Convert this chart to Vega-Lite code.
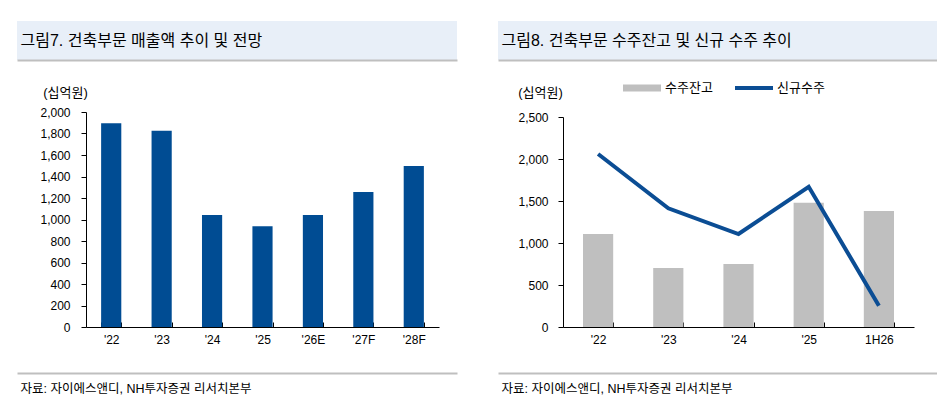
{
  "$schema": "https://vega.github.io/schema/vega-lite/v6.json",
  "background": "white",
  "padding": {"left": 17, "top": 21, "right": 0, "bottom": 0},
  "config": {
    "font": "Liberation Sans, Noto Sans CJK KR",
    "view": {"stroke": null},
    "axis": {
      "grid": false,
      "labelColor": "#000",
      "labelFontSize": 12,
      "domainColor": "#000",
      "tickColor": "#000",
      "titleColor": "#000",
      "titleFontWeight": "normal"
    }
  },
  "spacing": 41,
  "resolve": {"legend": {"color": "independent"}},
  "hconcat": [
    {
      "bounds": "flush",
      "spacing": 52,
      "vconcat": [
        {
          "width": 440,
          "height": 39,
          "view": {"fill": "#E8EFF8", "stroke": null},
          "data": {"values": [{"panel": "fig7"}]},
          "mark": {"type": "point", "opacity": 0},
          "encoding": {
            "x": {
              "field": "panel",
              "type": "nominal",
              "axis": {
                "orient": "bottom",
                "domainColor": "#BFBFBF",
                "domainWidth": 2,
                "ticks": false,
                "labels": false,
                "title": "그림7. 건축부문 매출액 추이 및 전망",
                "titleX": 3,
                "titleY": -20,
                "titleAlign": "left",
                "titleAnchor": "start",
                "titleBaseline": "middle",
                "titleFontSize": 16
              }
            }
          }
        },
        {
          "width": 440,
          "height": 215,
          "data": {
            "values": [
              {"year": "'22", "sales": 1895},
              {"year": "'23", "sales": 1826},
              {"year": "'24", "sales": 1042},
              {"year": "'25", "sales": 937},
              {"year": "'26E", "sales": 1042},
              {"year": "'27F", "sales": 1256},
              {"year": "'28F", "sales": 1498}
            ]
          },
          "mark": {"type": "bar", "color": "#004C93"},
          "encoding": {
            "x": {
              "field": "year",
              "type": "ordinal",
              "sort": null,
              "scale": {"range": [69, 422], "paddingInner": 0.6, "paddingOuter": 0.3},
              "axis": {
                "title": null,
                "labelAngle": 0,
                "tickBand": "extent",
                "tickSize": -5,
                "labelPadding": 12
              }
            },
            "y": {
              "field": "sales",
              "type": "quantitative",
              "scale": {"domain": [0, 2000]},
              "axis": {
                "values": [0, 200, 400, 600, 800, 1000, 1200, 1400, 1600, 1800, 2000],
                "format": ",.0f",
                "offset": -69,
                "tickSize": 5,
                "labelPadding": 11,
                "title": "(십억원)",
                "titleAngle": 0,
                "titleX": -21,
                "titleY": -20,
                "titleAlign": "center",
                "titleBaseline": "middle",
                "titleFontSize": 13
              }
            }
          }
        },
        {
          "width": 440,
          "height": 10,
          "data": {"values": [{"panel": "src"}]},
          "mark": {"type": "point", "opacity": 0},
          "encoding": {
            "x": {
              "field": "panel",
              "type": "nominal",
              "axis": {
                "orient": "top",
                "offset": 6,
                "domainColor": "#BFBFBF",
                "domainWidth": 2,
                "ticks": false,
                "labels": false,
                "title": "자료: 자이에스앤디, NH투자증권 리서치본부",
                "titleX": 3,
                "titleY": 15,
                "titleAlign": "left",
                "titleAnchor": "start",
                "titleBaseline": "middle",
                "titleFontSize": 12.5
              }
            }
          }
        }
      ]
    },
    {
      "bounds": "flush",
      "spacing": 57,
      "resolve": {"legend": {"color": "independent"}},
      "vconcat": [
        {
          "width": 439,
          "height": 39,
          "view": {"fill": "#E8EFF8", "stroke": null},
          "data": {"values": [{"panel": "fig8"}]},
          "mark": {"type": "point", "opacity": 0},
          "encoding": {
            "x": {
              "field": "panel",
              "type": "nominal",
              "axis": {
                "orient": "bottom",
                "domainColor": "#BFBFBF",
                "domainWidth": 2,
                "ticks": false,
                "labels": false,
                "title": "그림8. 건축부문 수주잔고 및 신규 수주 추이",
                "titleX": 3,
                "titleY": -20,
                "titleAlign": "left",
                "titleAnchor": "start",
                "titleBaseline": "middle",
                "titleFontSize": 16
              }
            }
          }
        },
        {
          "width": 439,
          "height": 210,
          "data": {
            "values": [
              {"period": "'22", "series": "수주잔고", "value": 1107},
              {"period": "'23", "series": "수주잔고", "value": 702},
              {"period": "'24", "series": "수주잔고", "value": 750},
              {"period": "'25", "series": "수주잔고", "value": 1480},
              {"period": "1H26", "series": "수주잔고", "value": 1381},
              {"period": "'22", "series": "신규수주", "value": 2060},
              {"period": "'23", "series": "신규수주", "value": 1413},
              {"period": "'24", "series": "신규수주", "value": 1107},
              {"period": "'25", "series": "신규수주", "value": 1670},
              {"period": "1H26", "series": "신규수주", "value": 254}
            ]
          },
          "encoding": {
            "x": {
              "field": "period",
              "type": "ordinal",
              "sort": null,
              "scale": {"range": [65, 416], "paddingInner": 0.57, "paddingOuter": 0.285},
              "axis": {
                "title": null,
                "labelAngle": 0,
                "tickBand": "extent",
                "tickSize": -5,
                "labelPadding": 12
              }
            },
            "y": {
              "field": "value",
              "type": "quantitative",
              "scale": {"domain": [0, 2500]},
              "axis": {
                "values": [0, 500, 1000, 1500, 2000, 2500],
                "format": ",.0f",
                "offset": -65,
                "tickSize": 5,
                "labelPadding": 10,
                "title": "(십억원)",
                "titleAngle": 0,
                "titleX": -23,
                "titleY": -25,
                "titleAlign": "center",
                "titleBaseline": "middle",
                "titleFontSize": 13
              }
            },
            "color": {
              "field": "series",
              "type": "nominal",
              "scale": {"domain": ["수주잔고", "신규수주"], "range": ["#BFBFBF", "#0B4D94"]},
              "legend": {
                "orient": "none",
                "legendX": 125,
                "legendY": -48,
                "direction": "horizontal",
                "columns": 2,
                "title": null,
                "padding": 0,
                "symbolType": "M-1,-0.18H1V0.18H-1Z",
                "symbolSize": 1444,
                "symbolStrokeWidth": 0,
                "labelFontSize": 13,
                "labelColor": "#000",
                "labelOffset": 4,
                "columnPadding": 22,
                "encode": {
                  "symbols": {
                    "update": {
                      "shape": {"signal": "datum.value === '신규수주' ? 'M-1,-0.11H1V0.11H-1Z' : 'M-1,-0.18H1V0.18H-1Z'"},
                      "fill": {"signal": "datum.value === '신규수주' ? '#0B4D94' : '#BFBFBF'"},
                      "stroke": {"value": "transparent"},
                      "opacity": {"value": 1}
                    }
                  }
                }
              }
            }
          },
          "layer": [
            {
              "transform": [{"filter": "datum.series === '수주잔고'"}],
              "mark": {"type": "bar"}
            },
            {
              "transform": [{"filter": "datum.series === '신규수주'"}],
              "mark": {"type": "line", "strokeWidth": 4, "strokeJoin": "miter"}
            }
          ]
        },
        {
          "width": 439,
          "height": 10,
          "data": {"values": [{"panel": "src"}]},
          "mark": {"type": "point", "opacity": 0},
          "encoding": {
            "x": {
              "field": "panel",
              "type": "nominal",
              "axis": {
                "orient": "top",
                "offset": 11,
                "domainColor": "#BFBFBF",
                "domainWidth": 2,
                "ticks": false,
                "labels": false,
                "title": "자료: 자이에스앤디, NH투자증권 리서치본부",
                "titleX": 3,
                "titleY": 15,
                "titleAlign": "left",
                "titleAnchor": "start",
                "titleBaseline": "middle",
                "titleFontSize": 12.5
              }
            }
          }
        }
      ]
    }
  ]
}
